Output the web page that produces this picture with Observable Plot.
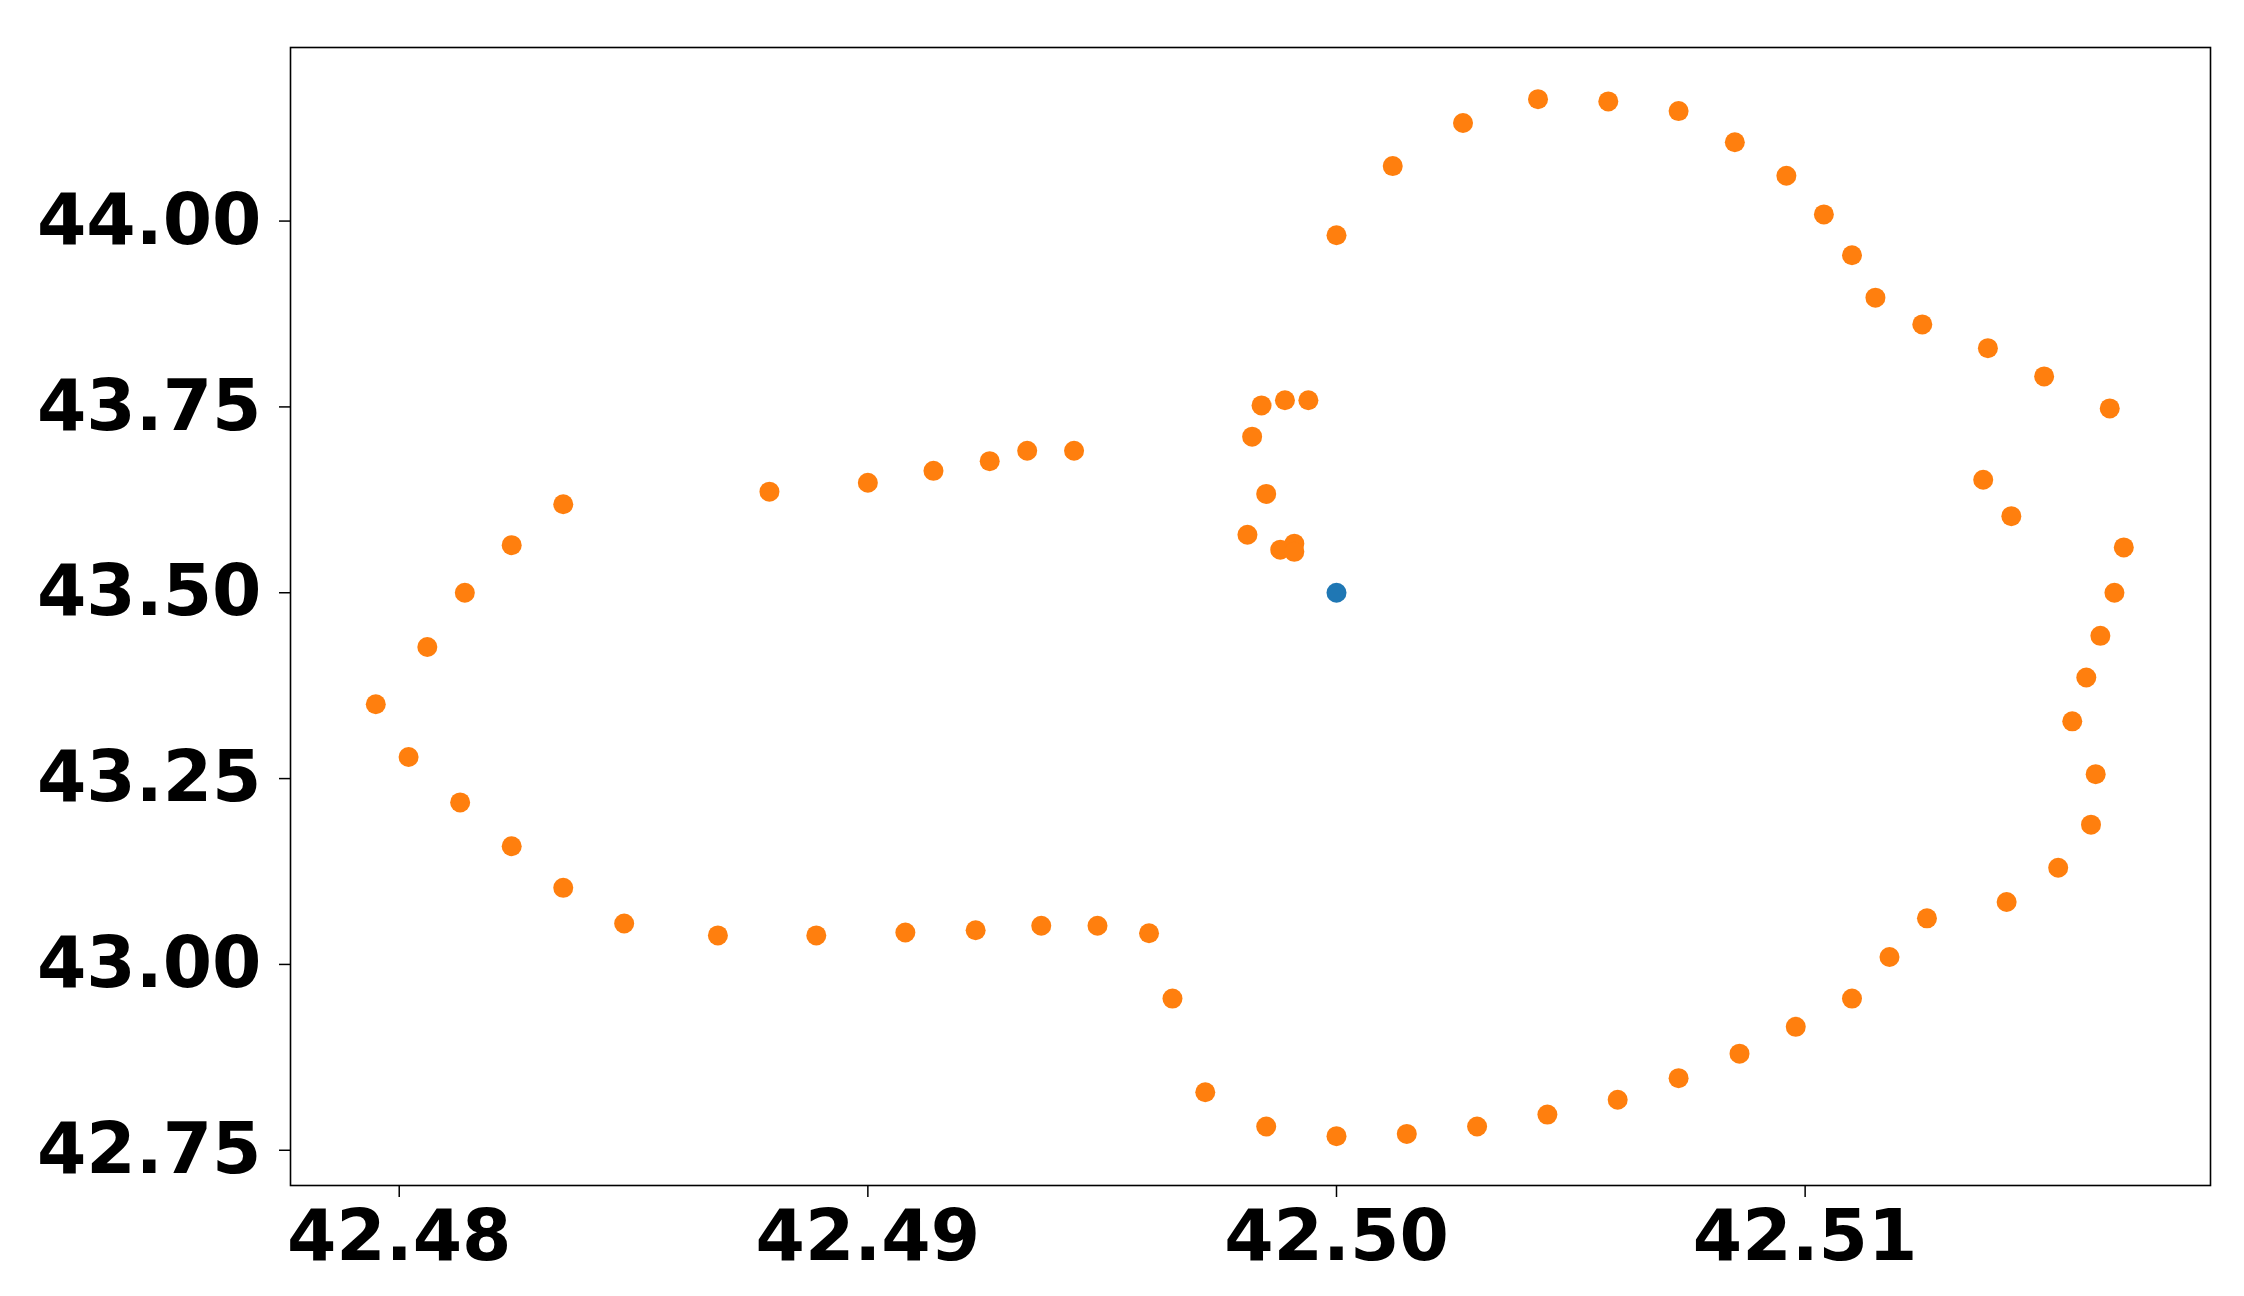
<!DOCTYPE html>
<html>
<head>
<meta charset="utf-8">
<script src="https://cdn.jsdelivr.net/npm/d3@7"></script>
<script src="https://cdn.jsdelivr.net/npm/@observablehq/plot@0.6"></script>
<style>
  html, body { margin: 0; padding: 0; background: white; }
  #chart svg { display: block; }
</style>
</head>
<body>
<div id="chart"></div>
<script>
// Orange series (outline points)
const orangeX = [
  42.4806, 42.4814, 42.4824, 42.4835, 42.4879, 42.4900, 42.4914, 42.4926, 42.4934, 42.4944,
  42.4795, 42.4802, 42.4813, 42.4824, 42.4835, 42.4848, 42.4868, 42.4889, 42.4908, 42.4923,
  42.4937, 42.4949, 42.4960, 42.4965, 42.4972, 42.4985, 42.5000, 42.5015, 42.5030, 42.5045,
  42.5060, 42.5073, 42.5086, 42.5098, 42.5110, 42.5118, 42.5126, 42.5143, 42.5154, 42.5161,
  42.5162, 42.5157, 42.5160, 42.5163, 42.5166, 42.5168, 42.5144, 42.5138, 42.5165, 42.5151,
  42.5139, 42.5125, 42.5115, 42.5110, 42.5104, 42.5096, 42.5085, 42.5073, 42.5058, 42.5043,
  42.5027, 42.5012, 42.5000,
  42.4984, 42.4989, 42.4994, 42.4982, 42.4985, 42.4981, 42.4988, 42.4991, 42.4991
];
const orangeY = [
  43.427, 43.500, 43.564, 43.619, 43.636, 43.648, 43.664, 43.677, 43.691, 43.691,
  43.350, 43.279, 43.218, 43.159, 43.103, 43.055, 43.039, 43.039, 43.043, 43.046,
  43.052, 43.052, 43.042, 42.954, 42.828, 42.782, 42.769, 42.772, 42.782, 42.798,
  42.818, 42.847, 42.880, 42.916, 42.954, 43.010, 43.062, 43.084, 43.130, 43.188,
  43.256, 43.327, 43.386, 43.442, 43.500, 43.561, 43.603, 43.652, 43.748, 43.791,
  43.829, 43.861, 43.897, 43.954, 44.009, 44.061, 44.106, 44.148, 44.161, 44.164,
  44.132, 44.074, 43.981,
  43.752, 43.759, 43.759, 43.710, 43.633, 43.578, 43.558, 43.566, 43.555
];
// Blue series (centre point)
const blueX = [42.50];
const blueY = [43.50];

// Tick values
const xTicks = [42.48, 42.49, 42.50, 42.51];
const yTicks = [42.75, 43.00, 43.25, 43.50, 43.75, 44.00];

const orange = orangeX.map((x, i) => ({x, y: orangeY[i]}));
const blue = blueX.map((x, i) => ({x, y: blueY[i]}));

const fmt = d => d.toFixed(2);

const chart = Plot.plot({
  width: 2244,
  height: 1296,
  marginLeft: 290,
  marginRight: 34,
  marginTop: 47,
  marginBottom: 111,
  x: {domain: [42.47768, 42.51865]},
  y: {domain: [42.7026, 44.2335]},
  style: {
    fontFamily: "DejaVu Sans",
    fontWeight: "bold",
    color: "black",
    background: "white",
    overflow: "visible"
  },
  marks: [
    Plot.axisX({ticks: xTicks, tickFormat: fmt, tickSize: 12, tickPadding: 12, label: null,
      fontSize: 71, fontWeight: "bold", strokeWidth: 1.5}),
    Plot.axisY({ticks: yTicks, tickFormat: fmt, tickSize: 11, tickPadding: 18, label: null,
      fontSize: 71, fontWeight: "bold", strokeWidth: 1.5}),
    Plot.dot(blue, {x: "x", y: "y", r: 10, fill: "#1f77b4"}),
    Plot.dot(orange, {x: "x", y: "y", r: 10, fill: "#ff7f0e"}),
    Plot.frame({stroke: "black", strokeWidth: 1.6})
  ]
});
document.getElementById("chart").appendChild(chart);
</script>
</body>
</html>
